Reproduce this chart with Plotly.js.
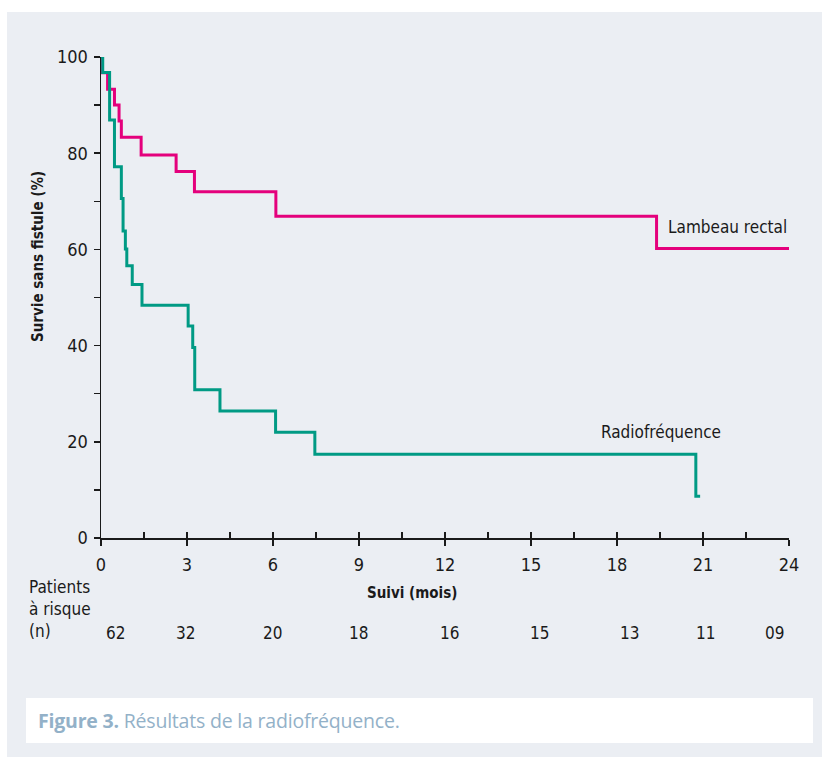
<!DOCTYPE html>
<html>
<head>
<meta charset="utf-8">
<script src="https://cdn.plot.ly/plotly-3.0.1.min.js"></script>
<style>
  html, body { margin: 0; padding: 0; background: #ffffff; }
  #panel { position: absolute; left: 7px; top: 12px; width: 815px; height: 745px; background: #ebeef3; }
  #caption { position: absolute; left: 26px; top: 698px; width: 787px; height: 45px; background: #ffffff;
             font-family: "Open Sans", "Noto Sans", sans-serif; font-size: 19.5px; color: #93b1c8;
             line-height: 45px; box-sizing: border-box; padding-left: 12px; letter-spacing: -0.2px; }
  #caption b { font-weight: 700; }
  #chart { position: absolute; left: 0; top: 0; width: 822px; height: 757px; }
</style>
</head>
<body>
<div id="panel"></div>
<div id="caption"><b>Figure 3.</b> Résultats de la radiofréquence.</div>
<div id="chart"></div>
<script>
// ---- Data ----
const lambeauMonths = [0, 0.04, 0.23, 0.47, 0.63, 0.71, 1.40, 2.62, 3.26, 6.10, 19.38, 24.0];
const lambeauSurvival = [100, 96.7, 93.3, 90.0, 86.7, 83.3, 79.6, 76.2, 72.0, 66.9, 60.2, 60.2];

const radioMonths = [0, 0.06, 0.30, 0.47, 0.71, 0.77, 0.85, 0.90, 1.09, 1.43, 3.04, 3.20, 3.27, 4.15, 6.09, 7.46, 20.75, 20.9];
const radioSurvival = [100, 96.8, 86.9, 77.2, 70.6, 63.8, 60.1, 56.6, 52.7, 48.4, 44.1, 39.6, 30.8, 26.4, 22.0, 17.4, 8.7, 8.7];

const xTickValues = [0, 3, 6, 9, 12, 15, 18, 21, 24];
const yTickValues = [0, 20, 40, 60, 80, 100];

const riskCounts = ['62', '32', '20', '18', '16', '15', '13', '11', '09'];
const riskMonths = [0.5, 2.95, 5.97, 8.97, 12.14, 15.31, 18.45, 21.1, 23.5];

const seriesNames = ['Lambeau rectal', 'Radiofréquence'];

// ---- Styles ----
const FONT = '"DejaVu Sans Condensed", "DejaVu Sans", sans-serif';
const INK = '#1a1a1a';
const PINK = '#e4007c';
const GREEN = '#009a84';
const FS = 18;
const FSL = 17;

const traces = [
  { x: lambeauMonths, y: lambeauSurvival, mode: 'lines', line: { shape: 'hv', color: PINK, width: 3 },
    name: seriesNames[0], hoverinfo: 'skip' },
  { x: radioMonths, y: radioSurvival, mode: 'lines', line: { shape: 'hv', color: GREEN, width: 3 },
    name: seriesNames[1], hoverinfo: 'skip' },
  { x: [], y: [], xaxis: 'x2', yaxis: 'y', mode: 'lines', showlegend: false, hoverinfo: 'skip' }
];

const annotations = [
  { text: seriesNames[0], x: 21.85, y: 64.7, xref: 'x', yref: 'y', xanchor: 'center', yanchor: 'middle',
    showarrow: false, font: { family: FONT, size: FSL, color: INK } },
  { text: seriesNames[1], x: 19.53, y: 22.0, xref: 'x', yref: 'y', xanchor: 'center', yanchor: 'middle',
    showarrow: false, font: { family: FONT, size: FSL, color: INK } },
  { text: '<b>Survie sans fistule (%)</b>', x: (38 - 101) / 688, y: (538 - 257) / 481, xref: 'paper', yref: 'paper',
    xanchor: 'center', yanchor: 'middle',
    showarrow: false, textangle: -90, font: { family: FONT, size: 15, color: INK } },
  { text: '<b>Suivi (mois)</b>', x: 10.85, y: (538 - 593) / 481, xref: 'x', yref: 'paper', xanchor: 'center', yanchor: 'middle',
    showarrow: false, font: { family: FONT, size: 15, color: INK } },
  { text: 'Patients<br>à risque<br>(n)', x: (27 - 101) / 688, y: (538 - 575) / 481, xref: 'paper', yref: 'paper',
    xanchor: 'left', yanchor: 'top', align: 'left', showarrow: false, font: { family: FONT, size: FSL, color: INK } }
];

riskCounts.forEach((c, i) => {
  annotations.push({ text: c, x: riskMonths[i], y: (538 - 633) / 481, xref: 'x', yref: 'paper',
    xanchor: 'center', yanchor: 'middle', showarrow: false, font: { family: FONT, size: FSL, color: INK } });
});

const layout = {
  width: 822, height: 757,
  margin: { l: 101, r: 33, t: 57, b: 219, pad: 0 },
  paper_bgcolor: 'rgba(0,0,0,0)', plot_bgcolor: 'rgba(0,0,0,0)',
  showlegend: false,
  font: { family: FONT, size: FS, color: INK },
  xaxis: {
    range: [0, 24], tickvals: xTickValues, ticktext: xTickValues.map(String),
    ticks: 'outside', ticklen: 6, tickwidth: 1.5, tickcolor: INK,
    showline: true, linewidth: 1.5, linecolor: INK, showgrid: false, zeroline: false,
    tickfont: { family: FONT, size: FS, color: INK }, ticklabelstandoff: 4
  },
  xaxis2: {
    overlaying: 'x', anchor: 'y', side: 'bottom', range: [0, 24], dtick: 1.5, tick0: 0,
    ticks: 'inside', ticklen: 6, tickwidth: 1.5, tickcolor: INK,
    showticklabels: false, showline: false, showgrid: false, zeroline: false
  },
  yaxis: {
    range: [0, 100], tickvals: yTickValues, ticktext: yTickValues.map(String),
    ticks: 'outside', ticklen: 6, tickwidth: 1.5, tickcolor: INK,
    minor: { tickvals: [10, 30, 50, 70, 90], ticks: 'outside', ticklen: 6, tickwidth: 1.5, tickcolor: INK },
    showline: true, linewidth: 1.5, linecolor: INK, showgrid: false, zeroline: false,
    tickfont: { family: FONT, size: FS, color: INK }, ticklabelstandoff: 2
  },
  annotations: annotations
};

Plotly.newPlot('chart', traces, layout, { staticPlot: true, displayModeBar: false });
</script>
</body>
</html>
